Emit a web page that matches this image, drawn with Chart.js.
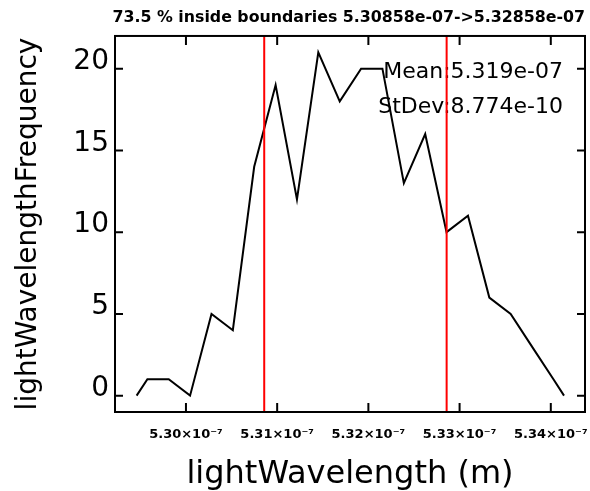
<!DOCTYPE html>
<html>
<head>
<meta charset="utf-8">
<script src="https://cdn.jsdelivr.net/npm/chart.js@4"></script>
<style>
    body { margin: 0; background: #fff; }
</style>
</head>
<body>
<canvas id="histo-chart" width="590" height="491"></canvas>
<script>
// histogram points (m); first and last are the range edges
var wavelengths = [5.29459e-7, 5.29577e-7, 5.29811e-7, 5.30045e-7, 5.30280e-7, 5.30514e-7,
    5.30748e-7, 5.30983e-7, 5.31217e-7, 5.31451e-7, 5.31686e-7, 5.31920e-7, 5.32154e-7,
    5.32389e-7, 5.32623e-7, 5.32857e-7, 5.33092e-7, 5.33326e-7, 5.33560e-7, 5.33794e-7,
    5.34029e-7, 5.34145e-7];
var frequencies = [0, 1, 1, 0, 5, 4, 14, 19, 12, 21, 18, 20, 20, 13, 16, 10, 11, 6, 5, 3, 1, 0];

var boundaries = [5.30858e-7, 5.32858e-7];
var xTickValues = [5.30e-7, 5.31e-7, 5.32e-7, 5.33e-7, 5.34e-7];
var xTickLabels = ['5.30×10⁻⁷', '5.31×10⁻⁷', '5.32×10⁻⁷', '5.33×10⁻⁷', '5.34×10⁻⁷'];
var yTickValues = [0, 5, 10, 15, 20];
var statsLines = ['Mean:5.319e-07', 'StDev:8.774e-10'];
var titleText = '73.5 % inside boundaries 5.30858e-07->5.32858e-07';

var points = [];
for (var i = 0; i < wavelengths.length; i++) {
    points.push({x: wavelengths[i], y: frequencies[i]});
}

// red boundary lines, stats text, frame and inward ticks
var decorations = {
    id: 'decorations',
    afterDatasetsDraw: function (chart) {
        var ctx = chart.ctx;
        var area = chart.chartArea;
        var xs = chart.scales.x, ys = chart.scales.y;
        ctx.save();

        ctx.fillStyle = '#000';
        ctx.font = '22px "DejaVu Sans"';
        ctx.textAlign = 'right';
        ctx.textBaseline = 'alphabetic';
        statsLines.forEach(function (line, k) {
            ctx.fillText(line, area.right - 22, area.top + 42 + k * 35);
        });

        ctx.strokeStyle = '#ff0000';
        ctx.lineWidth = 2;
        boundaries.forEach(function (b) {
            var px = xs.getPixelForValue(b);
            ctx.beginPath();
            ctx.moveTo(px, area.top);
            ctx.lineTo(px, area.bottom);
            ctx.stroke();
        });

        ctx.strokeStyle = '#000';
        ctx.lineWidth = 2;
        ctx.strokeRect(area.left, area.top, area.right - area.left, area.bottom - area.top);
        ctx.beginPath();
        xTickValues.forEach(function (v) {
            var px = xs.getPixelForValue(v);
            ctx.moveTo(px, area.bottom);
            ctx.lineTo(px, area.bottom - 9);
            ctx.moveTo(px, area.top);
            ctx.lineTo(px, area.top + 9);
        });
        yTickValues.forEach(function (v) {
            var py = ys.getPixelForValue(v);
            ctx.moveTo(area.left, py);
            ctx.lineTo(area.left + 8, py);
            ctx.moveTo(area.right, py);
            ctx.lineTo(area.right - 8, py);
        });
        ctx.stroke();
        ctx.restore();
    }
};

new Chart(document.getElementById('histo-chart').getContext('2d'), {
    type: 'line',
    data: {
        datasets: [{
            data: points,
            borderColor: '#000',
            borderWidth: 2,
            pointRadius: 0,
            tension: 0,
            fill: false
        }]
    },
    options: {
        responsive: false,
        animation: false,
        layout: {padding: {top: 0, right: 5, left: 0, bottom: 0}},
        plugins: {
            legend: {display: false},
            tooltip: {enabled: false},
            title: {
                display: true,
                text: titleText,
                align: 'end',
                color: '#000',
                font: {family: 'DejaVu Sans', size: 15.8, weight: 'bold', lineHeight: 1.2},
                padding: {top: 8, bottom: 9}
            }
        },
        scales: {
            x: {
                type: 'linear',
                min: 5.29222e-7,
                max: 5.34375e-7,
                afterFit: function (scale) {
                    scale.height = 79;
                    scale.paddingLeft = 0;
                    scale.paddingRight = 0;
                },
                afterBuildTicks: function (scale) {
                    scale.ticks = xTickValues.map(function (v) { return {value: v}; });
                },
                grid: {display: false, drawTicks: false},
                border: {display: false},
                ticks: {
                    color: '#000',
                    padding: 15,
                    maxRotation: 0,
                    autoSkip: false,
                    font: {family: 'DejaVu Sans', size: 13, weight: 'bold'},
                    callback: function (value, index) { return xTickLabels[index]; }
                },
                title: {
                    display: true,
                    text: 'lightWavelength (m)',
                    color: '#000',
                    font: {family: 'DejaVu Sans', size: 32, lineHeight: 1.0},
                    padding: {top: 0, bottom: 0}
                }
            },
            y: {
                min: -1,
                max: 22,
                afterFit: function (scale) {
                    scale.width = 115;
                    scale.paddingTop = 0;
                    scale.paddingBottom = 0;
                },
                afterBuildTicks: function (scale) {
                    scale.ticks = yTickValues.map(function (v) { return {value: v}; });
                },
                grid: {display: false, drawTicks: false},
                border: {display: false},
                ticks: {
                    color: '#000',
                    padding: 6,
                    labelOffset: -7,
                    font: {family: 'DejaVu Sans', size: 28}
                },
                title: {
                    display: true,
                    text: 'lightWavelengthFrequency',
                    color: '#000',
                    font: {family: 'DejaVu Sans', size: 28, lineHeight: 1.2},
                    padding: {top: 12, bottom: 0}
                }
            }
        }
    },
    plugins: [decorations]
});
</script>
</body>
</html>
